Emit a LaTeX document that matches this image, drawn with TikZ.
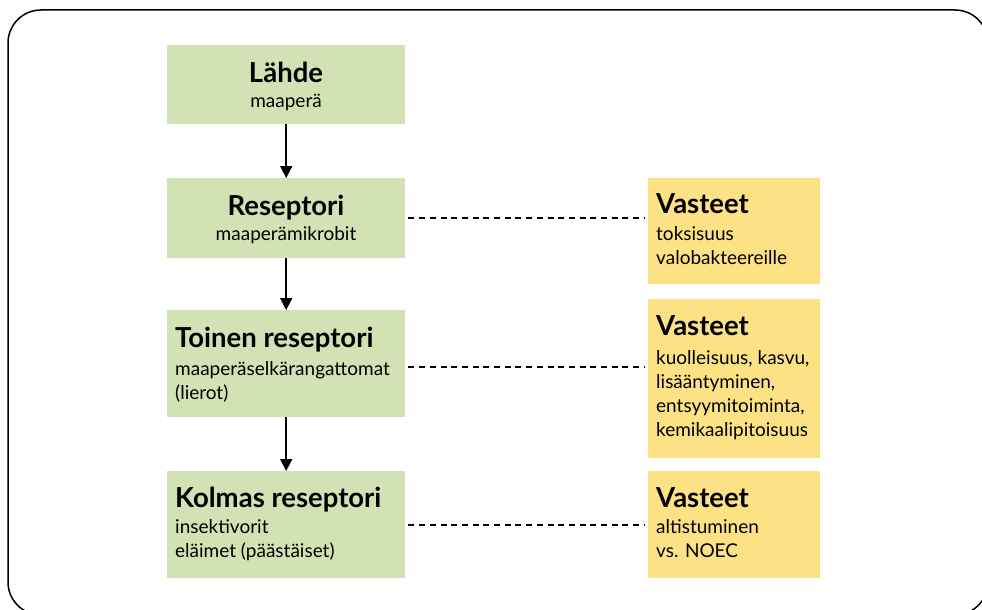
\documentclass[tikz,border=0pt]{standalone}
\usepackage{fontspec}
\setmainfont{Lato}
\usetikzlibrary{arrows.meta}
\definecolor{boxgreen}{RGB}{211,226,180}
\definecolor{boxyellow}{RGB}{253,225,133}
\begin{document}
\begin{tikzpicture}[x=1pt,y=-1pt,
  greenbox/.style={fill=boxgreen, draw=none, anchor=north west, inner sep=0pt, minimum width=238pt},
  yellowbox/.style={fill=boxyellow, draw=none, anchor=north west, inner sep=0pt, minimum width=172pt},
  titletext/.style={inner sep=0pt, font=\fontsize{27.5}{30}\selectfont\bfseries},
  subtext/.style={inner sep=0pt, font=\fontsize{19}{24}\selectfont},
  flowarrow/.style={line width=1.6pt, -{Triangle[width=12pt,length=12pt]}},
  dashline/.style={line width=1.6pt, dash pattern=on 6pt off 4.7pt, shorten <=3pt, shorten >=3pt}
]
\useasboundingbox (0,0) rectangle (982,610);
\draw[line width=1.5pt, rounded corners=33pt] (8,10) rectangle (988,615);

% green boxes
\node[greenbox, minimum height=79pt] (b1) at (167,45) {};
\node[greenbox, minimum height=80pt] (b2) at (167,178) {};
\node[greenbox, minimum height=107pt] (b3) at (167,310) {};
\node[greenbox, minimum height=107pt] (b4) at (167,471) {};
% yellow boxes
\node[yellowbox, minimum height=106pt] (y1) at (648,178) {};
\node[yellowbox, minimum height=159pt] (y2) at (648,299) {};
\node[yellowbox, minimum height=107pt] (y3) at (648,471) {};

% texts green
\node[titletext, anchor=base] (t1) at (286,82) {Lähde};
\node[subtext, anchor=base] (s1) at (286,107) {maaperä};
\node[titletext, anchor=base] (t2) at (286,215) {Reseptori};
\node[subtext, anchor=base] (s2) at (286,240) {maaperämikrobit};
\node[titletext, anchor=base west] (t3) at (175,347) {Toinen reseptori};
\node[subtext, anchor=base west] (s3a) at (175,375) {maaperäselkärangattomat};
\node[subtext, anchor=base west] (s3b) at (175,399) {(lierot)};
\node[titletext, anchor=base west] (t4) at (175,507) {Kolmas reseptori};
\node[subtext, anchor=base west] (s4a) at (175,533) {insektivorit};
\node[subtext, anchor=base west] (s4b) at (175,557) {eläimet (päästäiset)};

% texts yellow
\node[titletext, anchor=base west] (v1) at (656,213) {Vasteet};
\node[subtext, anchor=base west] (v1a) at (656,240) {toksisuus};
\node[subtext, anchor=base west] (v1b) at (656,264) {valobakteereille};
\node[titletext, anchor=base west] (v2) at (656,335) {Vasteet};
\node[subtext, anchor=base west] (v2a) at (656,364) {kuolleisuus, kasvu,};
\node[subtext, anchor=base west] (v2b) at (656,388) {lisääntyminen,};
\node[subtext, anchor=base west] (v2c) at (656,412) {entsyymitoiminta,};
\node[subtext, anchor=base west] (v2d) at (656,436) {kemikaalipitoisuus};
\node[titletext, anchor=base west] (v3) at (656,507) {Vasteet};
\node[subtext, anchor=base west] (v3a) at (656,533) {altistuminen};
\node[subtext, anchor=base west] (v3b) at (656,557) {vs. NOEC};

% arrows
\draw[flowarrow] (b1) -- (b2);
\draw[flowarrow] (b2) -- (b3);
\draw[flowarrow] (b3) -- (b4);

% dashed connectors
\draw[dashline] (b2.east) -- (b2.east -| y1.west);
\draw[dashline] ([yshift=-3pt]b3.east) -- ([yshift=-3pt]b3.east -| y2.west);
\draw[dashline] (b4.east) -- (b4.east -| y3.west);
\end{tikzpicture}
\end{document}
